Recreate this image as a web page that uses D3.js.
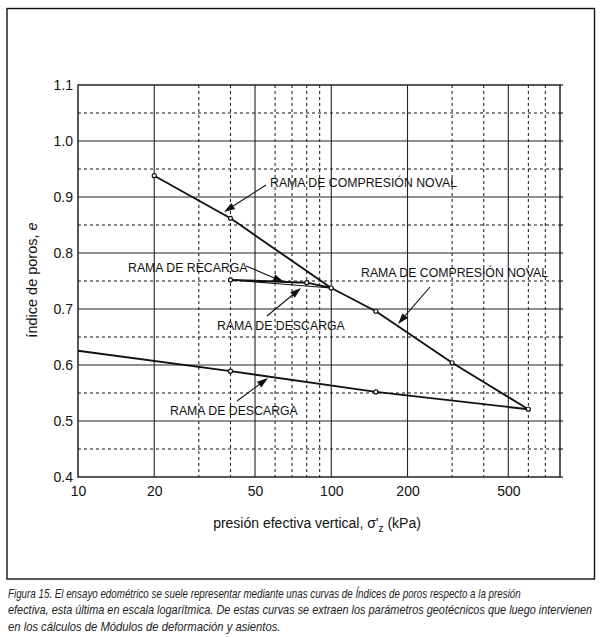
<!DOCTYPE html>
<html>
<head>
<meta charset="utf-8">
<script src="https://cdn.jsdelivr.net/npm/d3@7"></script>
<style>
html,body{margin:0;padding:0;background:#fff;}
svg{display:block;}
</style>
</head>
<body>
<svg id="chart" width="602" height="637"></svg>
<script>
// ---- data ----
const compresionNoval = [[20,0.938],[40,0.862],[100,0.7375],[150,0.696],[300,0.604],[600,0.521]];
const recarga = [[40,0.752],[80,0.747],[100,0.7375]];
const descargaCiclo = [[100,0.7375],[60,0.7455],[40,0.752]];
const descargaFinal = [[600,0.521],[150,0.552],[40,0.589],[10,0.6255]];
const puntosDescarga = [[150,0.552],[40,0.589]];
const puntosCiclo = [[40,0.752],[80,0.747]];
const xTickLabels = [10,20,50,100,200,500];
const xGridMinor = [30,40,60,70,80,90,300,400,600,700];
const yTickLabels = [0.4,0.5,0.6,0.7,0.8,0.9,1.0,1.1];
const yGridMinor = [0.45,0.55,0.65,0.75,0.85,0.95,1.05];
const annotations = [
  {text:"RAMA DE COMPRESIÓN NOVAL", tx:270, ty:187, from:[266,185], to:[224,212]},
  {text:"RAMA DE RECARGA", tx:128, ty:272, from:[246,266], to:[284,282]},
  {text:"RAMA DE DESCARGA", tx:217, ty:330, from:[267,316], to:[301,288]},
  {text:"RAMA DE COMPRESIÓN NOVAL", tx:361, ty:277, from:[430,287], to:[398,324]},
  {text:"RAMA DE DESCARGA", tx:170, ty:415, from:[237,401], to:[268,378]}
];
const captionLines = [
  "Figura 15. El ensayo edométrico se suele representar mediante unas curvas de Índices de poros respecto a la presión",
  "efectiva, esta última en escala logarítmica. De estas curvas se extraen los parámetros geotécnicos que luego intervienen",
  "en los cálculos de Módulos de deformación y asientos."
];
const captionWidths = [513, 585, 273];

// ---- layout ----
const svg = d3.select("#chart");
const L = 78, R = 560, T = 85, B = 477;
const x = d3.scaleLog().domain([10,800]).range([L,R]);
const y = d3.scaleLinear().domain([0.4,1.1]).range([B,T]);
const font = "'Liberation Sans', Arial, Helvetica, sans-serif";

// frame
svg.append("rect").attr("x",7).attr("y",8.5).attr("width",587.5).attr("height",570.5)
  .attr("fill","none").attr("stroke","#111").attr("stroke-width",1.4);

const g = svg.append("g");

// minor grid (dashed)
g.selectAll(".vmin").data(xGridMinor).join("line")
  .attr("x1",d=>x(d)).attr("x2",d=>x(d)).attr("y1",T).attr("y2",B)
  .attr("stroke","#111").attr("stroke-width",1).attr("stroke-dasharray","3,3");
g.selectAll(".hmin").data(yGridMinor).join("line")
  .attr("y1",d=>y(d)).attr("y2",d=>y(d)).attr("x1",L).attr("x2",R)
  .attr("stroke","#111").attr("stroke-width",1).attr("stroke-dasharray","3,3");
// major grid
g.selectAll(".vmaj").data(xTickLabels.filter(d=>d>10)).join("line")
  .attr("x1",d=>x(d)).attr("x2",d=>x(d)).attr("y1",T).attr("y2",B)
  .attr("stroke","#222").attr("stroke-width",1.1);
g.selectAll(".hmaj").data(yTickLabels.filter(d=>d>0.4&&d<1.1)).join("line")
  .attr("y1",d=>y(d)).attr("y2",d=>y(d)).attr("x1",L).attr("x2",R)
  .attr("stroke","#222").attr("stroke-width",1.1);
// right outer ticks
g.selectAll(".rt").data(yTickLabels.concat(yGridMinor)).join("line")
  .attr("y1",d=>y(d)).attr("y2",d=>y(d)).attr("x1",R).attr("x2",R+3)
  .attr("stroke","#222").attr("stroke-width",1.2);
// plot border
g.append("rect").attr("x",L).attr("y",T).attr("width",R-L).attr("height",B-T)
  .attr("fill","none").attr("stroke","#222").attr("stroke-width",1.5);

// axes labels
const xAxis = d3.axisBottom(x).tickValues(xTickLabels).tickFormat(d3.format("d")).tickSize(0).tickPadding(9);
const gx = svg.append("g").attr("transform",`translate(0,${B})`).call(xAxis);
gx.select(".domain").remove();
gx.selectAll("text").attr("font-family",font).attr("font-size",14).attr("fill","#111");

const yAxis = d3.axisLeft(y).tickValues(yTickLabels).tickFormat(d3.format(".1f")).tickSize(0).tickPadding(5);
const gy = svg.append("g").attr("transform",`translate(${L},0)`).call(yAxis);
gy.select(".domain").remove();
gy.selectAll("text").attr("font-family",font).attr("font-size",14).attr("fill","#111");

// axis titles
const xt = svg.append("text").attr("x",317).attr("y",528).attr("text-anchor","middle")
  .attr("font-family",font).attr("font-size",14).attr("fill","#111");
xt.append("tspan").text("presión efectiva vertical, σ'");
xt.append("tspan").attr("font-size",10).attr("dy",4).text("z");
xt.append("tspan").attr("dy",-4).text(" (kPa)");

const yt = svg.append("text").attr("transform","translate(37,280) rotate(-90)").attr("text-anchor","middle")
  .attr("font-family",font).attr("font-size",14.5).attr("fill","#111");
yt.append("tspan").text("índice de poros, ");
yt.append("tspan").attr("font-style","italic").text("e");

// curves
const line = d3.line().x(d=>x(d[0])).y(d=>y(d[1]));
const curves = [compresionNoval, recarga, descargaCiclo, descargaFinal];
svg.selectAll(".curve").data(curves).join("path")
  .attr("d",line).attr("fill","none").attr("stroke","#111")
  .attr("stroke-width",(d,i)=>i===2?1.2:1.9).attr("stroke-linejoin","round");

// markers
const pts = compresionNoval.concat(puntosDescarga, puntosCiclo);
svg.selectAll(".pt").data(pts).join("circle")
  .attr("cx",d=>x(d[0])).attr("cy",d=>y(d[1])).attr("r",2)
  .attr("fill","#fff").attr("stroke","#111").attr("stroke-width",1.2);

// annotations
annotations.forEach(a=>{
  svg.append("text").attr("x",a.tx).attr("y",a.ty).text(a.text)
    .attr("font-family",font).attr("font-size",12.3).attr("fill","#111");
  const dx=a.to[0]-a.from[0], dy=a.to[1]-a.from[1], len=Math.hypot(dx,dy);
  const ux=dx/len, uy=dy/len, hl=11, hw=3.6;
  const bx=a.to[0]-ux*hl, by=a.to[1]-uy*hl;
  svg.append("line").attr("x1",a.from[0]).attr("y1",a.from[1]).attr("x2",bx).attr("y2",by)
    .attr("stroke","#111").attr("stroke-width",1.1);
  svg.append("path").attr("d",`M${a.to[0]},${a.to[1]}L${bx-uy*hw},${by+ux*hw}L${bx+uy*hw},${by-ux*hw}Z`)
    .attr("fill","#111");
});

// caption (condensed italic, scaled horizontally to the reference width)
svg.selectAll(".cap").data(captionLines).join("text")
  .attr("x",0).attr("y",0).text(d=>d)
  .attr("font-family","'Liberation Sans Narrow', 'Liberation Sans', Arial, sans-serif")
  .attr("font-style","italic").attr("font-size",12.5).attr("fill","#222")
  .each(function(d,i){
    const w = this.getComputedTextLength();
    const sx = captionWidths[i]/w;
    d3.select(this).attr("transform",`translate(8,${598+i*16.3}) scale(${sx},1)`);
  });
</script>
</body>
</html>
